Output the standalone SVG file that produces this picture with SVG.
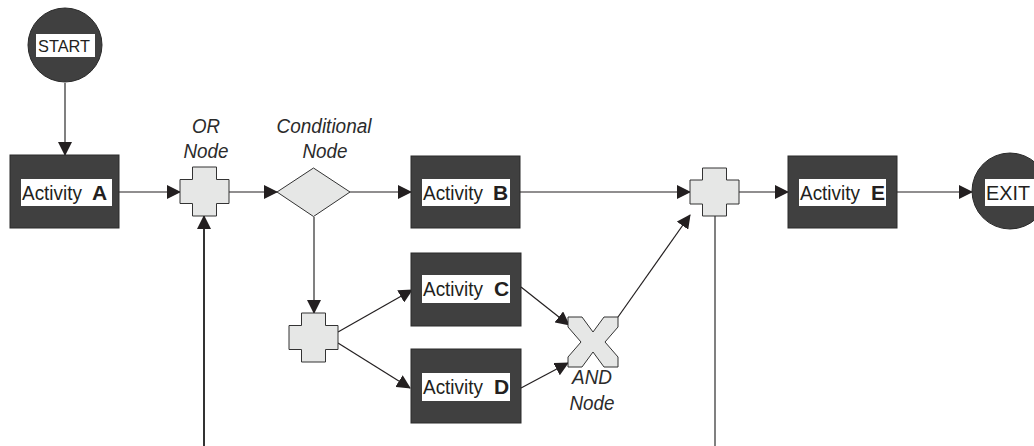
<svg xmlns="http://www.w3.org/2000/svg" width="1034" height="446" viewBox="0 0 1034 446">
<defs>
<marker id="ah" markerWidth="14" markerHeight="14" refX="13" refY="7" orient="auto" markerUnits="userSpaceOnUse">
<path d="M0,0 L14,7 L0,14 Z" fill="#231f20"/>
</marker>
<style>
.act{fill:#404040;stroke:#2a2a2a;stroke-width:1}
.lbl{fill:#fff}
.t{font-family:"Liberation Sans",Arial,sans-serif;font-size:21px;fill:#231f20}
.b{font-weight:bold}
.it{font-family:"Liberation Sans",Arial,sans-serif;font-size:20px;font-style:italic;fill:#2b2b2b;text-anchor:middle}
.gw{fill:#e6e7e6;stroke:#333;stroke-width:1}
.ln{stroke:#231f20;stroke-width:1.2;fill:none}
.gl{stroke:#808080;stroke-width:2;fill:none}
.dl{stroke:#333;stroke-width:2;fill:none}
</style>
</defs>
<rect width="1034" height="446" fill="#fff"/>
<g id="connectors">
<line class="gl" x1="65" y1="83" x2="65" y2="155" marker-end="url(#ah)"/>
<line class="ln" x1="119" y1="192" x2="180" y2="192" marker-end="url(#ah)"/>
<line class="dl" x1="204" y1="446" x2="204" y2="216" marker-end="url(#ah)"/>
<line class="ln" x1="229" y1="192" x2="277" y2="192" marker-end="url(#ah)"/>
<line class="ln" x1="350" y1="192" x2="411" y2="192" marker-end="url(#ah)"/>
<line class="gl" x1="314" y1="217" x2="314" y2="313" marker-end="url(#ah)"/>
<line class="ln" x1="338" y1="332" x2="412" y2="290" marker-end="url(#ah)"/>
<line class="ln" x1="338" y1="343" x2="410" y2="388" marker-end="url(#ah)"/>
<line class="ln" x1="521" y1="287" x2="569" y2="325" marker-end="url(#ah)"/>
<line class="ln" x1="521" y1="388" x2="568" y2="363" marker-end="url(#ah)"/>
<line class="ln" x1="520" y1="192" x2="690" y2="192" marker-end="url(#ah)"/>
<line class="ln" x1="618" y1="317" x2="690" y2="215" marker-end="url(#ah)"/>
<line class="gl" x1="715" y1="216" x2="715" y2="446"/>
<line class="ln" x1="739" y1="192" x2="788" y2="192" marker-end="url(#ah)"/>
<line class="ln" x1="897" y1="192" x2="972" y2="192" marker-end="url(#ah)"/>
</g>
<g id="start">
<circle cx="65" cy="45" r="37" fill="#404040" stroke="#2a2a2a"/>
<rect class="lbl" x="36" y="34" width="59" height="23"/>
<text x="38" y="52" font-family="'Liberation Sans',Arial,sans-serif" font-size="17" fill="#231f20" textLength="52" lengthAdjust="spacingAndGlyphs">START</text>
</g>
<g id="activityA">
<rect class="act" x="10" y="155" width="109" height="73"/>
<rect class="lbl" x="21" y="179" width="91" height="27"/>
<text class="t" x="22" y="200" textLength="60" lengthAdjust="spacingAndGlyphs">Activity</text>
<text class="t b" x="92" y="200">A</text>
</g>
<g id="orNode">
<path class="gw" d="M192.5,167 H216.5 V179.5 H229 V203.5 H216.5 V216 H192.5 V203.5 H180 V179.5 H192.5 Z"/>
<text class="it" x="206" y="133" textLength="28" lengthAdjust="spacingAndGlyphs">OR</text>
<text class="it" x="206" y="158" textLength="45" lengthAdjust="spacingAndGlyphs">Node</text>
</g>
<g id="conditionalNode">
<path class="gw" d="M313.5,168 L350,192 L313.5,216.5 L277,192 Z"/>
<text class="it" x="324" y="133" textLength="95" lengthAdjust="spacingAndGlyphs">Conditional</text>
<text class="it" x="325" y="158" textLength="45" lengthAdjust="spacingAndGlyphs">Node</text>
</g>
<g id="activityB">
<rect class="act" x="411" y="156" width="109" height="72"/>
<rect class="lbl" x="422" y="179" width="88" height="27"/>
<text class="t" x="423" y="200" textLength="60" lengthAdjust="spacingAndGlyphs">Activity</text>
<text class="t b" x="493" y="200">B</text>
</g>
<g id="splitNode">
<path class="gw" d="M301.5,313 H325.5 V325.5 H338 V349.5 H325.5 V362 H301.5 V349.5 H289 V325.5 H301.5 Z"/>
</g>
<g id="activityC">
<rect class="act" x="411" y="253" width="110" height="73"/>
<rect class="lbl" x="422" y="275" width="88" height="28"/>
<text class="t" x="423" y="296" textLength="60" lengthAdjust="spacingAndGlyphs">Activity</text>
<text class="t b" x="494" y="296">C</text>
</g>
<g id="activityD">
<rect class="act" x="411" y="349" width="110" height="74"/>
<rect class="lbl" x="422" y="373" width="88" height="28"/>
<text class="t" x="423" y="394" textLength="60" lengthAdjust="spacingAndGlyphs">Activity</text>
<text class="t b" x="494" y="394">D</text>
</g>
<g id="andNode">
<path class="gw" d="M568,317 H582 L593,332 L604,317 H618 V327 L605,342 L618,357 V367 H604 L593,352 L582,367 H568 V357 L581,342 L568,327 Z"/>
<text class="it" x="592" y="384" textLength="40" lengthAdjust="spacingAndGlyphs">AND</text>
<text class="it" x="592" y="410" textLength="45" lengthAdjust="spacingAndGlyphs">Node</text>
</g>
<g id="joinNode">
<path class="gw" d="M702.5,168 H726.5 V180 H739 V204 H726.5 V216 H702.5 V204 H690 V180 H702.5 Z"/>
</g>
<g id="activityE">
<rect class="act" x="788" y="156" width="109" height="72"/>
<rect class="lbl" x="799" y="179" width="87" height="27"/>
<text class="t" x="800" y="200" textLength="60" lengthAdjust="spacingAndGlyphs">Activity</text>
<text class="t b" x="871" y="200">E</text>
</g>
<g id="exit">
<circle cx="1010" cy="191" r="38" fill="#404040" stroke="#2a2a2a"/>
<rect class="lbl" x="985" y="179" width="52" height="27"/>
<text class="t" x="986" y="200" textLength="44" lengthAdjust="spacingAndGlyphs">EXIT</text>
</g>
</svg>
